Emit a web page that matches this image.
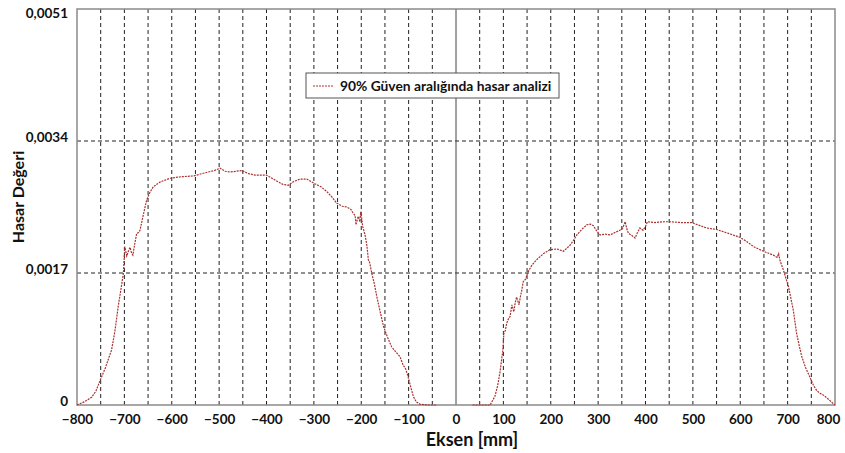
<!DOCTYPE html>
<html>
<head>
<meta charset="utf-8">
<script src="https://cdn.jsdelivr.net/npm/d3@7"></script>
<style>
  body { margin: 0; background: #fff; }
  svg { display: block; font-family: Lato, 'Open Sans', sans-serif; }
</style>
</head>
<body>
<div class="chart-container"></div>
<script>
// left half of the curve, [x mm, damage value]
const leftSeries = [
  [-800, 0], [-785, 0.00004], [-769, 0.0001], [-760, 0.00018], [-751, 0.00032],
  [-740, 0.00048], [-727, 0.00071], [-720, 0.00095], [-713, 0.00127], [-707, 0.0015],
  [-702, 0.0017], [-699, 0.00204], [-695, 0.00192], [-691, 0.00199], [-688, 0.00203],
  [-685, 0.00196], [-682, 0.00193], [-678, 0.00208], [-674, 0.00221], [-670, 0.00222],
  [-667, 0.00225], [-660, 0.00245], [-653, 0.00264], [-646, 0.00274], [-639, 0.00281],
  [-625, 0.00287], [-604, 0.00292], [-580, 0.00294], [-554, 0.00295], [-530, 0.00299],
  [-510, 0.00302], [-498, 0.00305], [-487, 0.00301], [-477, 0.003], [-465, 0.00301],
  [-452, 0.00302], [-438, 0.00298], [-424, 0.00296], [-400, 0.00296], [-380, 0.00289],
  [-365, 0.00284], [-354, 0.00283], [-342, 0.00288], [-329, 0.00291], [-315, 0.00291],
  [-298, 0.00285], [-285, 0.00281], [-273, 0.00275], [-262, 0.00268], [-252, 0.0026],
  [-240, 0.00256], [-231, 0.00255], [-222, 0.00252], [-217, 0.00247], [-213, 0.00244],
  [-211, 0.00232], [-208, 0.0024], [-206, 0.00243], [-203, 0.00236], [-201, 0.00249],
  [-199, 0.0024], [-197, 0.0023], [-192, 0.00219], [-188, 0.00205], [-185, 0.00187],
  [-182, 0.00183], [-178, 0.0017], [-172, 0.00155], [-167, 0.00139], [-160, 0.0012],
  [-153, 0.00101], [-145, 0.00088], [-136, 0.00075], [-128, 0.00069], [-118, 0.00062],
  [-112, 0.00052], [-106, 0.00046], [-101, 0.00036], [-95, 0.00022], [-90, 0.00011],
  [-84, 0.00004], [-76, 0.00001], [-60, 0], [-40, 0]
]

// right half of the curve
const rightSeries = [
  [35, 0], [72, 0], [82, 0.00011], [88, 0.00025], [93, 0.00043], [99, 0.00071],
  [101, 0.00092], [104, 0.00096], [107, 0.00105], [110, 0.0011], [114, 0.00114],
  [118, 0.00129], [122, 0.0012], [125, 0.00132], [128, 0.00139], [133, 0.00129],
  [136, 0.0014], [139, 0.00148], [142, 0.00159], [147, 0.00162], [151, 0.0017],
  [160, 0.0018], [170, 0.00187], [185, 0.00195], [198, 0.002], [213, 0.00201],
  [227, 0.00198], [241, 0.00206], [248, 0.00212], [255, 0.00219], [265, 0.00226],
  [276, 0.00232], [284, 0.00233], [290, 0.00231], [297, 0.00224], [304, 0.00219],
  [315, 0.0022], [325, 0.00219], [335, 0.00222], [346, 0.00225], [352, 0.00228],
  [357, 0.00236], [361, 0.00226], [364, 0.00221], [370, 0.00219], [378, 0.00215],
  [383, 0.00222], [388, 0.00228], [395, 0.00225], [400, 0.0023], [404, 0.00236],
  [420, 0.00235], [440, 0.00236], [452, 0.00236], [475, 0.00235], [497, 0.00235],
  [515, 0.00231], [529, 0.00228], [550, 0.00226], [575, 0.00221], [599, 0.00216],
  [615, 0.0021], [628, 0.00204], [649, 0.00198], [670, 0.00193], [678, 0.0019],
  [681, 0.00195], [684, 0.00186], [691, 0.00174], [697, 0.00162], [702, 0.00152],
  [712, 0.00122], [719, 0.00092], [725, 0.00075], [730, 0.00062], [738, 0.00048],
  [747, 0.00036], [754, 0.00026], [761, 0.00019], [768, 0.00015], [775, 0.00013],
  [785, 0.00008], [796, 0.00002], [800, 0]
]

const xTicks = [-800, -700, -600, -500, -400, -300, -200, -100, 0, 100, 200, 300, 400, 500, 600, 700, 800]
const xGrid = d3.range(-750, 800, 50).filter((v) => v !== 0)
const yTicks = [0, 0.0017, 0.0034, 0.0051]
const yTickLabels = ['0', '0,0017', '0,0034', '0,0051']
const legendLabel = '90% Güven aralığında hasar analizi'

const width = 845
const height = 453
const margin = { top: 9, right: 10, bottom: 48, left: 77 }
const lineColor = '#a8322e'

const svg = d3
  .select('.chart-container')
  .append('svg')
  .attr('width', width)
  .attr('height', height)

const x = d3
  .scaleLinear()
  .domain([-800, 800])
  .range([margin.left, width - margin.right])

const y = d3
  .scaleLinear()
  .domain([0, 0.0051])
  .range([height - margin.bottom, margin.top])

// vertical dashed grid
svg
  .append('g')
  .selectAll('line')
  .data(xGrid)
  .enter()
  .append('line')
  .attr('x1', (d) => x(d))
  .attr('x2', (d) => x(d))
  .attr('y1', y(0))
  .attr('y2', y(0.0051))
  .attr('stroke', '#222')
  .attr('stroke-width', 1)
  .attr('stroke-dasharray', '4,3')

// horizontal dashed grid
svg
  .append('g')
  .selectAll('line')
  .data(yTicks.slice(1, 3))
  .enter()
  .append('line')
  .attr('x1', x(-800))
  .attr('x2', x(800))
  .attr('y1', (d) => y(d))
  .attr('y2', (d) => y(d))
  .attr('stroke', '#222')
  .attr('stroke-width', 1)
  .attr('stroke-dasharray', '4,3')

// solid zero line
svg
  .append('line')
  .attr('x1', x(0))
  .attr('x2', x(0))
  .attr('y1', y(0))
  .attr('y2', y(0.0051))
  .attr('stroke', '#444')
  .attr('stroke-width', 1)

// plot frame
svg
  .append('rect')
  .attr('x', x(-800))
  .attr('y', y(0.0051))
  .attr('width', x(800) - x(-800))
  .attr('height', y(0) - y(0.0051))
  .attr('fill', 'none')
  .attr('stroke', '#8a8a8a')
  .attr('stroke-width', 1.5)

// curves
const line = d3
  .line()
  .x((d) => x(d[0]))
  .y((d) => y(d[1]))

svg
  .selectAll('.curve')
  .data([leftSeries, rightSeries])
  .enter()
  .append('path')
  .attr('class', 'curve')
  .attr('d', line)
  .attr('fill', 'none')
  .attr('stroke', lineColor)
  .attr('stroke-width', 1.2)
  .attr('stroke-dasharray', '2,1')

// x axis labels
const xAxis = d3
  .axisBottom(x)
  .tickValues(xTicks)
  .tickSize(0)
  .tickPadding(9)

svg
  .append('g')
  .attr('transform', `translate(0,${y(0)})`)
  .call(xAxis)
  .call((g) => g.select('.domain').remove())
  .selectAll('text')
  .attr('font-family', 'Lato, sans-serif')
  .attr('font-size', 13.5)
  .attr('font-weight', 'bold')
  .attr('fill', '#111')
  .attr('dx', (d) => (d === 800 ? -7 : 0))

// y axis labels, the top one sits below its tick
const yAxis = d3
  .axisLeft(y)
  .tickValues(yTicks)
  .tickFormat((d, i) => yTickLabels[i])
  .tickSize(0)
  .tickPadding(9)

svg
  .append('g')
  .attr('transform', `translate(${x(-800)},0)`)
  .call(yAxis)
  .call((g) => g.select('.domain').remove())
  .selectAll('text')
  .attr('font-family', 'Lato, sans-serif')
  .attr('font-size', 13.5)
  .attr('font-weight', 'bold')
  .attr('fill', '#111')
  .attr('y', (d) => (d === 0.0051 ? 4 : -4))

// axis titles
svg
  .append('text')
  .attr('x', 472)
  .attr('y', 446)
  .attr('text-anchor', 'middle')
  .attr('font-size', 18)
  .attr('font-weight', 'bold')
  .attr('fill', '#111')
  .text('Eksen [mm]')

svg
  .append('text')
  .attr('transform', 'translate(24,197) rotate(-90)')
  .attr('text-anchor', 'middle')
  .attr('font-size', 16)
  .attr('font-weight', 'bold')
  .attr('fill', '#111')
  .text('Hasar Değeri')

// legend
const legend = svg.append('g').attr('transform', 'translate(306,73)')

legend
  .append('rect')
  .attr('width', 253)
  .attr('height', 25)
  .attr('fill', '#fff')
  .attr('stroke', '#555')
  .attr('stroke-width', 1)

legend
  .append('line')
  .attr('x1', 7)
  .attr('x2', 27)
  .attr('y1', 13)
  .attr('y2', 13)
  .attr('stroke', lineColor)
  .attr('stroke-width', 1)
  .attr('stroke-dasharray', '2,1')

legend
  .append('text')
  .attr('x', 34)
  .attr('y', 17.5)
  .attr('font-size', 13.8)
  .attr('font-weight', 'bold')
  .attr('fill', '#111')
  .text(legendLabel)
</script>
</body>
</html>
